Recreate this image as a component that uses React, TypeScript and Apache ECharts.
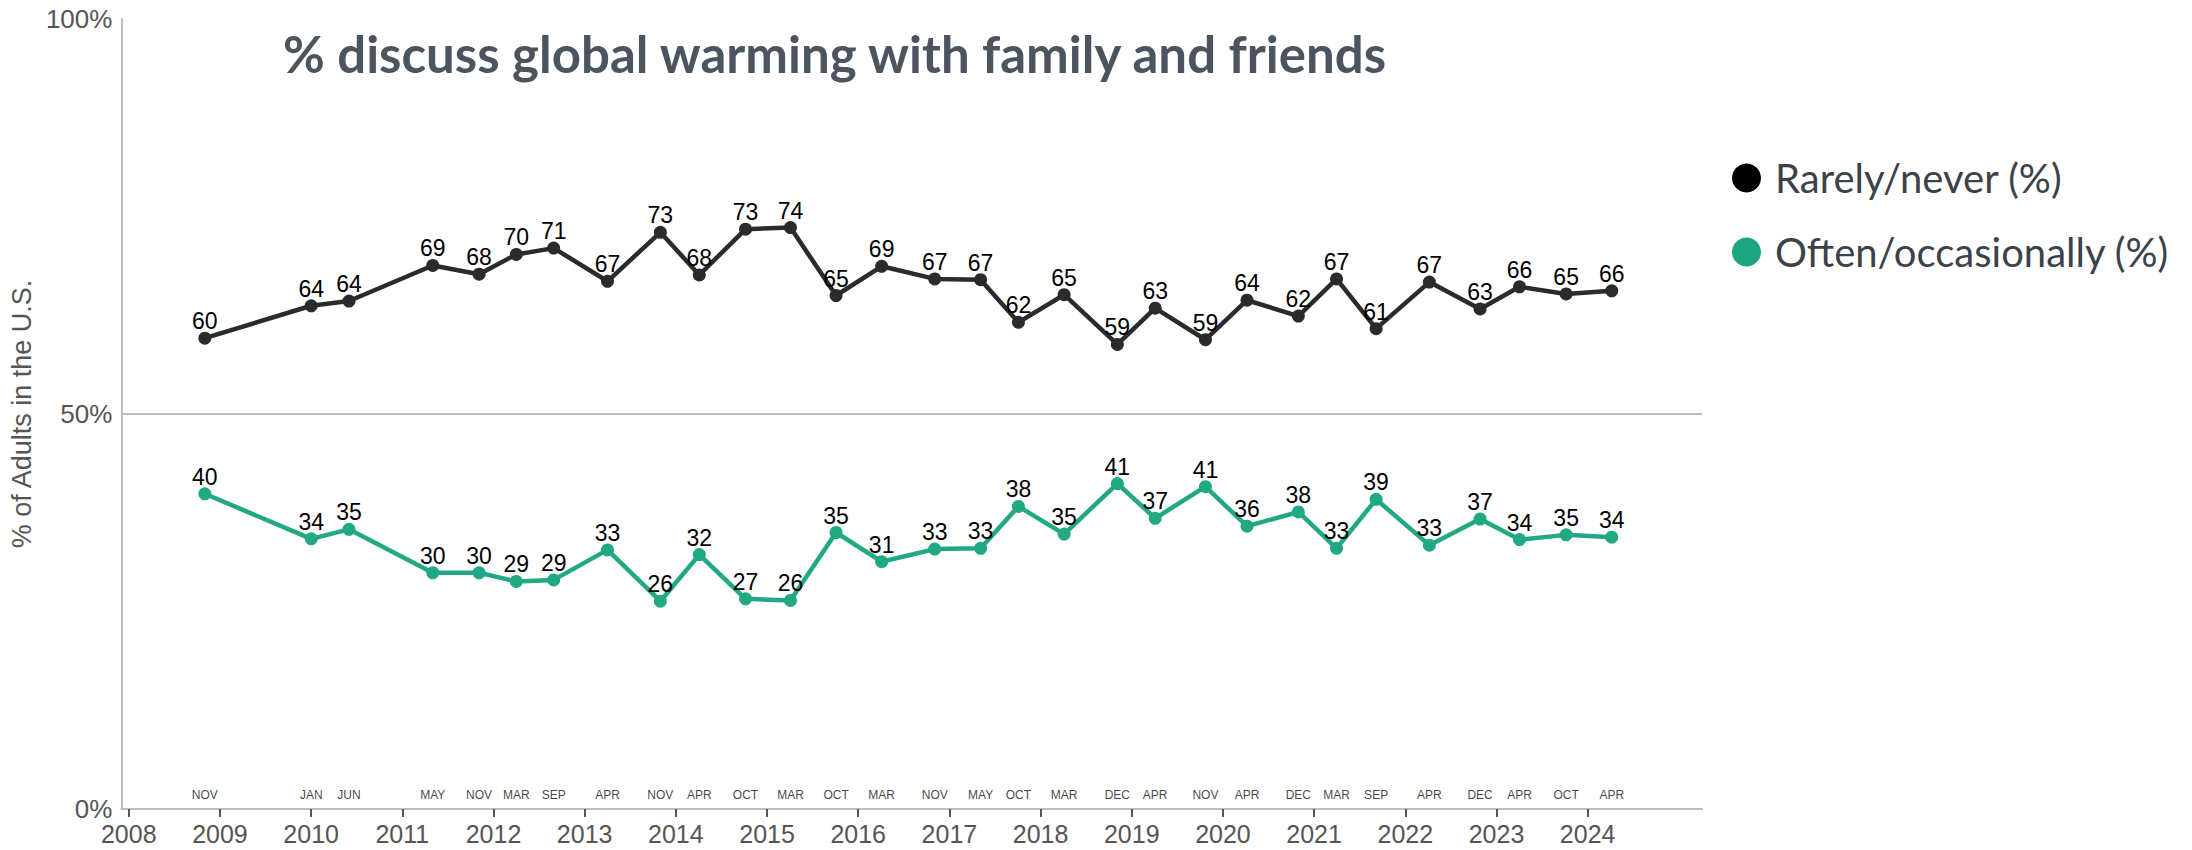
import React, { useEffect, useRef } from "react";
import * as echarts from "echarts";

// ---- data ----
// survey dates as decimal years, with their month labels
const surveyDates = [2008.834, 2010.001, 2010.415, 2011.334, 2011.842, 2012.25, 2012.66, 2013.25, 2013.83, 2014.257, 2014.764, 2015.257, 2015.757, 2016.257, 2016.839, 2017.342, 2017.757, 2018.258, 2018.842, 2019.257, 2019.808, 2020.264, 2020.827, 2021.246, 2021.68, 2022.264, 2022.82, 2023.253, 2023.764, 2024.264];
const surveyMonths = ["NOV", "JAN", "JUN", "MAY", "NOV", "MAR", "SEP", "APR", "NOV", "APR", "OCT", "MAR", "OCT", "MAR", "NOV", "MAY", "OCT", "MAR", "DEC", "APR", "NOV", "APR", "DEC", "MAR", "SEP", "APR", "DEC", "APR", "OCT", "APR"];
const rarelyNever = [59.6, 63.7, 64.3, 68.8, 67.7, 70.2, 71.0, 66.8, 73.0, 67.6, 73.4, 73.6, 65.0, 68.7, 67.1, 67.0, 61.6, 65.1, 58.8, 63.4, 59.4, 64.4, 62.4, 67.1, 60.8, 66.7, 63.3, 66.1, 65.2, 65.6];
const oftenOccasionally = [39.9, 34.2, 35.4, 29.9, 29.9, 28.8, 29.0, 32.8, 26.3, 32.2, 26.6, 26.4, 35.0, 31.3, 32.9, 33.0, 38.3, 34.8, 41.2, 36.8, 40.8, 35.8, 37.6, 33.0, 39.2, 33.4, 36.7, 34.1, 34.7, 34.4];
const yearTicks = [2008, 2009, 2010, 2011, 2012, 2013, 2014, 2015, 2016, 2017, 2018, 2019, 2020, 2021, 2022, 2023, 2024];
const yTicks = [0, 50, 100];
const seriesNames = ["Rarely/never (%)", "Often/occasionally (%)"];
const titleText = "% discuss global warming with family and friends";
const yAxisTitle = "% of Adults in the U.S.";

const SANS = "'Liberation Sans Narrow', 'Liberation Sans', Arial, sans-serif";
const HUMANIST = "Lato, 'Open Sans', sans-serif";

export default function App() {
  const ref = useRef<HTMLDivElement>(null);

  useEffect(() => {
    if (!ref.current) return;
    const chart = echarts.init(ref.current, null, { renderer: "svg" });

    const rarelyData = surveyDates.map((x, i) => [x, rarelyNever[i]]);
    const oftenData = surveyDates.map((x, i) => [x, oftenOccasionally[i]]);
    const monthData = surveyDates.map((x, i) => ({ value: [x, 0], month: surveyMonths[i] }));

    const dataLabel = {
      show: true,
      position: "top" as const,
      distance: -1,
      color: "#000",
      fontSize: 23,
      fontFamily: SANS,
      formatter: (p: any) => String(Math.round(p.value[1])),
    };

    chart.setOption({
      animation: false,
      backgroundColor: "#fff",
      title: {
        text: titleText,
        left: 278,
        top: 23,
        textStyle: {
          fontFamily: HUMANIST,
          fontWeight: "bold",
          fontSize: 51,
          color: "#4a5560",
        },
      },
      legend: {
        data: [
          { name: seriesNames[0], itemStyle: { color: "#000" } },
          { name: seriesNames[1], itemStyle: { color: "#1ba681" } },
        ],
        orient: "vertical",
        left: 1727,
        top: 150,
        icon: "circle",
        itemWidth: 29,
        itemHeight: 29,
        itemGap: 28,
        textStyle: {
          fontFamily: HUMANIST,
          fontSize: 40,
          lineHeight: 46,
          color: "#3c4249",
          padding: [0, 0, 0, 9],
        },
      },
      grid: {
        left: 121,
        right: 490,
        top: 19,
        bottom: 41,
        containLabel: false,
      },
      xAxis: {
        type: "value",
        min: 2007.919,
        max: 2025.254,
        axisLine: { show: true, lineStyle: { color: "#bdbdbd", width: 2 } },
        axisTick: {
          show: true,
          length: 8,
          lineStyle: { color: "#555", width: 2 },
          customValues: yearTicks,
        },
        axisLabel: {
          customValues: yearTicks,
          formatter: (v: number) => String(v),
          color: "#555",
          fontSize: 25,
          fontFamily: SANS,
          margin: 12,
        },
        splitLine: { show: false },
      },
      yAxis: {
        type: "value",
        min: 0,
        max: 100,
        interval: 50,
        name: yAxisTitle,
        nameLocation: "middle",
        nameRotate: 90,
        nameGap: 76,
        nameTextStyle: { color: "#555", fontSize: 27, fontFamily: SANS },
        axisLine: { show: true, lineStyle: { color: "#bdbdbd", width: 2 } },
        axisTick: { show: false },
        axisLabel: {
          formatter: (v: number) => (yTicks.includes(v) ? v + "%" : ""),
          color: "#555",
          fontSize: 26,
          fontFamily: SANS,
          margin: 9,
        },
        splitLine: {
          show: true,
          lineStyle: { color: "#bdbdbd", width: 2 },
          showMinLine: false,
          showMaxLine: false,
        },
      },
      series: [
        {
          name: seriesNames[0],
          type: "line",
          data: rarelyData,
          color: "#2b2b2b",
          lineStyle: { color: "#2b2b2b", width: 4.5 },
          itemStyle: { color: "#2b2b2b" },
          symbol: "circle",
          symbolSize: 13,
          label: dataLabel,
          z: 3,
        },
        {
          name: seriesNames[1],
          type: "line",
          data: oftenData,
          color: "#1ba681",
          lineStyle: { color: "#21a884", width: 4.5 },
          itemStyle: { color: "#21a884" },
          symbol: "circle",
          symbolSize: 13,
          label: dataLabel,
          z: 3,
        },
        {
          name: "months",
          type: "scatter",
          data: monthData,
          symbolSize: 0,
          silent: true,
          label: {
            show: true,
            position: "top",
            distance: 8,
            color: "#111",
            fontSize: 12,
            fontFamily: "'Liberation Sans', Arial, sans-serif",
            formatter: (p: any) => p.data.month,
          },
        },
      ],
    });

    return () => chart.dispose();
  }, []);

  return (
    <div
      ref={ref}
      style={{ position: "fixed", left: 0, top: 0, width: "2192px", height: "850px" }}
    />
  );
}
